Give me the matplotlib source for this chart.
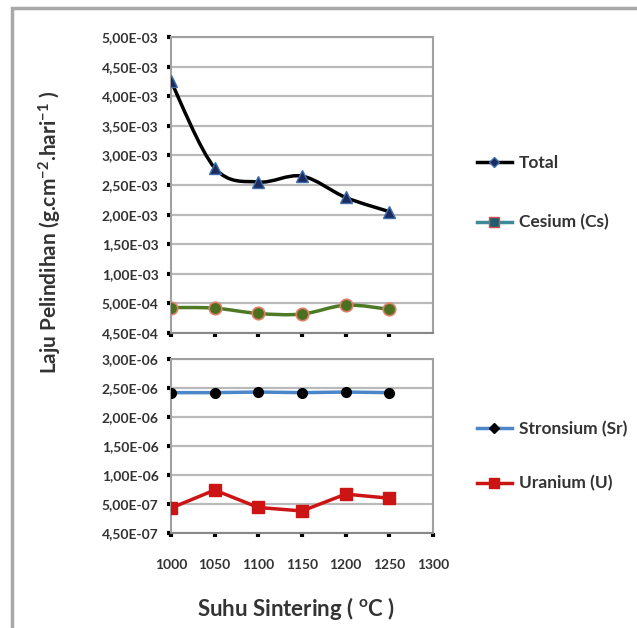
import numpy as np
import matplotlib
matplotlib.use("Agg")
import matplotlib.pyplot as plt
from matplotlib.path import Path
from matplotlib.patches import PathPatch, Rectangle
from matplotlib.lines import Line2D

plt.rcParams['font.family'] = ['Lato', 'DejaVu Sans']
plt.rcParams['mathtext.default'] = 'regular'

# data
suhu = [1000, 1050, 1100, 1150, 1200, 1250]
total = [4.25e-3, 2.79e-3, 2.55e-3, 2.65e-3, 2.29e-3, 2.05e-3]
cesium = [4.93e-4, 4.92e-4, 4.83e-4, 4.82e-4, 4.97e-4, 4.90e-4]
stronsium = [2.42e-6, 2.42e-6, 2.43e-6, 2.42e-6, 2.43e-6, 2.42e-6]
uranium = [4.93e-7, 7.4e-7, 4.94e-7, 4.88e-7, 6.7e-7, 6.0e-7]

x_ticks = [1000, 1050, 1100, 1150, 1200, 1250, 1300]
top_ticks = [4.5e-4, 5e-4, 1e-3, 1.5e-3, 2e-3, 2.5e-3, 3e-3, 3.5e-3, 4e-3, 4.5e-3, 5e-3]
top_labels = ['4,50E-04', '5,00E-04', '1,00E-03', '1,50E-03', '2,00E-03', '2,50E-03',
              '3,00E-03', '3,50E-03', '4,00E-03', '4,50E-03', '5,00E-03']
bot_ticks = [4.5e-7, 5e-7, 1e-6, 1.5e-6, 2e-6, 2.5e-6, 3e-6]
bot_labels = ['4,50E-07', '5,00E-07', '1,00E-06', '1,50E-06', '2,00E-06', '2,50E-06', '3,00E-06']

GRID = '#b9b9b9'
SPINE = '#a0a0a0'
TXT = '#333333'


def piecewise_scale(ax, ticks):
    idx = np.arange(len(ticks), dtype=float)
    fwd = lambda v: np.interp(v, ticks, idx)
    inv = lambda p: np.interp(p, idx, ticks)
    ax.set_yscale('function', functions=(fwd, inv))
    ax.set_ylim(ticks[0], ticks[-1])
    return fwd


def smooth_line(ax, fwd, xs, ys, color, lw):
    # excel-like smoothed line: catmull-rom as bezier segments in scaled space
    px = np.asarray(xs, float)
    py = fwd(np.asarray(ys, float))
    pts = np.column_stack([px, py])
    verts = [pts[0]]
    codes = [Path.MOVETO]
    n = len(pts)
    for i in range(n - 1):
        p0 = pts[i - 1] if i > 0 else pts[i]
        p1, p2 = pts[i], pts[i + 1]
        p3 = pts[i + 2] if i + 2 < n else pts[i + 1]
        c1 = p1 + (p2 - p0) / 6.0
        c2 = p2 - (p3 - p1) / 6.0
        verts += [c1, c2, p2]
        codes += [Path.CURVE4] * 3
    patch = PathPatch(Path(verts, codes), facecolor='none', edgecolor=color, lw=lw,
                      transform=ax.transLimits + ax.transAxes, zorder=3, capstyle='round')
    ax.add_patch(patch)


def style_axes(ax, ticks, labels):
    ax.set_xlim(1000, 1300)
    ax.set_yticks(ticks)
    ax.set_yticklabels(labels, fontweight='bold')
    ax.minorticks_off()
    ax.yaxis.grid(True, color=GRID, lw=1.6)
    ax.set_axisbelow(True)
    for s in ax.spines.values():
        s.set_color(SPINE)
        s.set_linewidth(1.5)
    ax.spines['bottom'].set_color('#888888')
    ax.tick_params(axis='both', direction='out', length=3, width=3, color='black',
                   labelsize=10, labelcolor=TXT, pad=6)


fig = plt.figure(figsize=(6.37, 6.28), dpi=100)

# outer frame (only left and top edge visible)
fig.add_artist(Rectangle((12 / 637, -0.2), 1.2, 1.2 - 8 / 628, transform=fig.transFigure,
                         fill=False, edgecolor='#a8a8a8', lw=2.5))

ax1 = fig.add_axes([171 / 637, 1 - 333 / 628, 262 / 637, 296 / 628])
ax2 = fig.add_axes([171 / 637, 1 - 533 / 628, 262 / 637, 174 / 628])

f1 = piecewise_scale(ax1, top_ticks)
style_axes(ax1, top_ticks, top_labels)
ax1.set_xticks(suhu)
ax1.set_xticklabels([])
smooth_line(ax1, f1, suhu, total, 'black', 2.5)
ax1.plot(suhu, total, ls='none', marker='^', ms=9, mfc='#1c2a5c', mec='#3f6fb0', mew=1, zorder=4)
smooth_line(ax1, f1, suhu, cesium, '#4e7a26', 2.5)
ax1.plot(suhu, cesium, ls='none', marker='o', ms=9, mfc='#4a7020', mec='#e07f6a', mew=1.2, zorder=4)

f2 = piecewise_scale(ax2, bot_ticks)
style_axes(ax2, bot_ticks, bot_labels)
ax2.set_xticks(x_ticks)
ax2.set_xticklabels([str(v) for v in x_ticks], fontweight='bold')
ax2.plot(suhu, stronsium, color='#4a86c8', lw=2.5, marker='o', ms=7, mfc='black', mec='black', zorder=4)
ax2.plot(suhu, uranium, color='#cc1414', lw=2.5, marker='s', ms=9, mfc='#cc1414', mec='#cc1414', zorder=4)
ax2.tick_params(axis='x', pad=16)

# legends
h_total = Line2D([], [], color='black', lw=2.5, marker='D', ms=5, mfc='#1c2a5c', mec='#3f6fb0')
h_cs = Line2D([], [], color='#3d8a98', lw=2.5, marker='s', ms=7, mfc='#1f5e6e', mec='#d05050')
h_sr = Line2D([], [], color='#4a86c8', lw=2.5, marker='D', ms=5, mfc='black', mec='black')
h_u = Line2D([], [], color='#cc1414', lw=2.5, marker='s', ms=7, mfc='#cc1414', mec='#cc1414')

leg_kw = dict(frameon=False, fontsize=12.5, handlelength=2.0, handletextpad=0.4,
              labelcolor=TXT, borderaxespad=0, loc='upper left')
leg1 = fig.legend([h_total, h_cs], ['Total', 'Cesium (Cs)'], labelspacing=2.5,
                  bbox_to_anchor=(470 / 637, 1 - 148 / 628), **leg_kw)
leg2 = fig.legend([h_sr, h_u], ['Stronsium (Sr)', 'Uranium (U)'], labelspacing=2.2,
                  bbox_to_anchor=(470 / 637, 1 - 414 / 628), **leg_kw)
for leg in (leg1, leg2):
    for t in leg.get_texts():
        t.set_fontweight('bold')

fig.text(50 / 637, 1 - 232 / 628, 'Laju Pelindihan (g.cm$^{-2}$.hari$^{-1}$ )',
         rotation=90, ha='center', va='center', fontsize=15, fontweight='bold', color=TXT)
fig.text(296 / 637, 1 - 608 / 628, 'Suhu Sintering ( $^{o}$C )',
         ha='center', va='center', fontsize=16, fontweight='bold', color=TXT)

fig.savefig('out.png', dpi=100)
